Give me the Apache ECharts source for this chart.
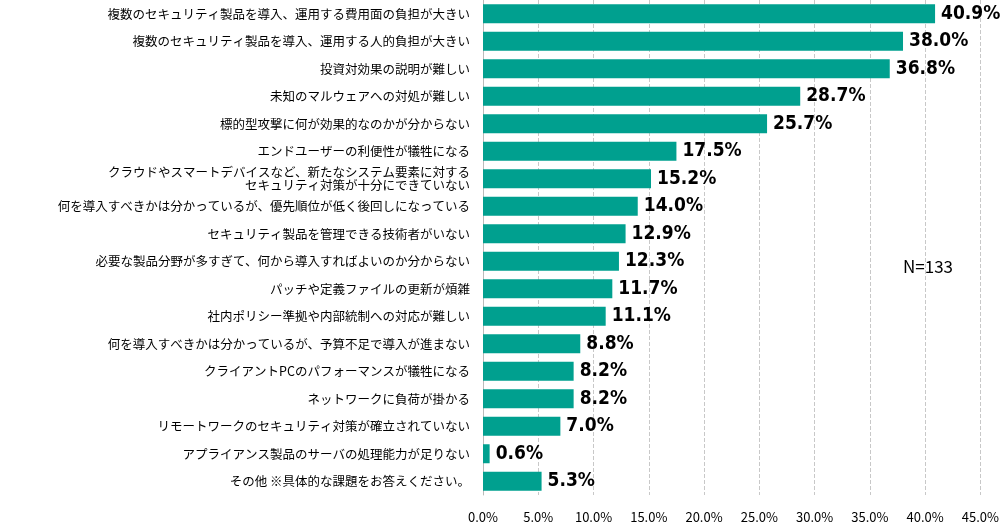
<!DOCTYPE html>
<html><head><meta charset="utf-8">
<script src="https://cdn.jsdelivr.net/npm/echarts@6/dist/echarts.min.js"></script>
<style>html,body{margin:0;padding:0;background:#fff}#charts{width:1002px;height:524px}</style>
</head><body><div id="charts"></div>
<script>
var categories = [
    '複数のセキュリティ製品を導入、運用する費用面の負担が大きい',
    '複数のセキュリティ製品を導入、運用する人的負担が大きい',
    '投資対効果の説明が難しい',
    '未知のマルウェアへの対処が難しい',
    '標的型攻撃に何が効果的なのかが分からない',
    'エンドユーザーの利便性が犠牲になる',
    'クラウドやスマートデバイスなど、新たなシステム要素に対する\nセキュリティ対策が十分にできていない',
    '何を導入すべきかは分かっているが、優先順位が低く後回しになっている',
    'セキュリティ製品を管理できる技術者がいない',
    '必要な製品分野が多すぎて、何から導入すればよいのか分からない',
    'パッチや定義ファイルの更新が煩雑',
    '社内ポリシー準拠や内部統制への対応が難しい',
    '何を導入すべきかは分かっているが、予算不足で導入が進まない',
    'クライアントPCのパフォーマンスが犠牲になる',
    'ネットワークに負荷が掛かる',
    'リモートワークのセキュリティ対策が確立されていない',
    'アプライアンス製品のサーバの処理能力が足りない',
    'その他 ※具体的な課題をお答えください。'
];
var values = [40.9, 38.0, 36.8, 28.7, 25.7, 17.5, 15.2, 14.0, 12.9, 12.3, 11.7, 11.1, 8.8, 8.2, 8.2, 7.0, 0.6, 5.3];

var myChart = echarts.init(document.getElementById('charts'));
var option = {
    animation: false,
    grid: { left: 483, right: 12, top: 0, bottom: 29 },
    graphic: [{
        type: 'text', left: 903, top: 258,
        style: { text: 'N=133', font: '17px "Noto Sans CJK JP"', fill: '#000' }
    }],
    xAxis: {
        type: 'value', min: 0, max: 45, interval: 5,
        axisLabel: {
            formatter: function (v) { return v.toFixed(1) + '%'; },
            fontFamily: 'Noto Sans CJK JP', fontSize: 13, color: '#000', margin: 16
        },
        splitLine: { lineStyle: { type: 'dashed', color: '#c8c8c8' } },
        axisLine: { show: false }, axisTick: { show: false }
    },
    yAxis: {
        type: 'category', inverse: true, data: categories,
        axisLabel: {
            fontFamily: 'Noto Sans CJK JP', fontSize: 12.5, color: '#000', margin: 13, lineHeight: 13
        },
        axisLine: { lineStyle: { color: '#bbb' } }, axisTick: { show: false }
    },
    series: [{
        type: 'bar', data: values, barWidth: 19,
        itemStyle: { color: '#00A08F' },
        label: {
            show: true, position: 'right', distance: 6,
            formatter: function (p) { return p.value.toFixed(1) + '%'; },
            fontFamily: 'Liberation Sans Narrow, DejaVu Sans Condensed', fontWeight: 'bold',
            fontSize: 19, color: '#000'
        }
    }]
};
myChart.setOption(option);
</script></body></html>
